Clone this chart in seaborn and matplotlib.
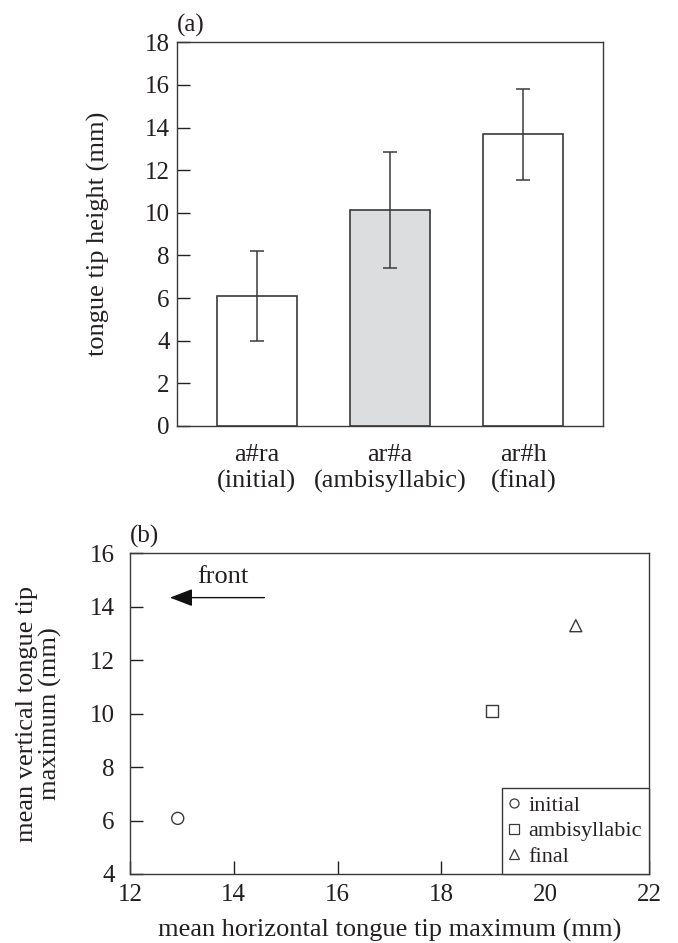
import matplotlib
matplotlib.use("Agg")
import matplotlib.pyplot as plt
import seaborn as sns
import pandas as pd
from matplotlib.lines import Line2D

# ---- data ----
bar_labels = ["a#ra\n(initial)", "ar#a\n(ambisyllabic)", "ar#h\n(final)"]
bar_heights = [6.1, 10.13, 13.68]
bar_errors = [2.13, 2.73, 2.12]
bar_fill = ["#ffffff", "#dcdddf", "#ffffff"]

pos_labels = ["initial", "ambisyllabic", "final"]
horiz_max = [12.92, 18.98, 20.59]
vert_max = [6.08, 10.11, 13.29]
pos_markers = ["o", "s", "^"]

TXT = "#231f20"
EDGE = "#3a3a3a"

sns.set_theme(style="white")
plt.rcParams["font.family"] = ["Liberation Serif", "DejaVu Serif"]
plt.rcParams["text.color"] = TXT
plt.rcParams["axes.labelcolor"] = TXT
plt.rcParams["xtick.color"] = TXT
plt.rcParams["ytick.color"] = TXT

fig = plt.figure(figsize=(6.78, 9.43), dpi=100)
ax1 = fig.add_axes([0.2606, 0.5483, 0.6292, 0.4068])
ax2 = fig.add_axes([0.1917, 0.0732, 0.7655, 0.3401])

FS_TICK = 18
FS_LAB = 19

# ---- panel (a) ----
df_a = pd.DataFrame({"cat": bar_labels, "h": bar_heights})
sns.barplot(data=df_a, x="cat", y="h", hue="cat", palette=bar_fill, legend=False,
            width=0.6, edgecolor=EDGE, linewidth=1.2, errorbar=None, ax=ax1)
ax1.errorbar(x=list(range(len(bar_heights))), y=bar_heights, yerr=bar_errors,
             fmt="none", ecolor=EDGE, elinewidth=1.1, capsize=4.7, capthick=1.1)
ax1.set_xlim(-0.6, 2.6)
ax1.set_ylim(0, 18)
ax1.set_yticks(range(0, 19, 2))
ax1.set_xlabel("")
ax1.set_ylabel("tongue tip height (mm)", fontsize=FS_LAB, labelpad=25)
ax1.tick_params(axis="y", direction="in", length=9.5, width=1, labelsize=FS_TICK, pad=5,
                left=True)
ax1.tick_params(axis="x", length=0, labelsize=FS_LAB, pad=13)
for lab in ax1.get_xticklabels():
    lab.set_linespacing(1.2)
ax1.text(0.0, 1.015, "(a)", transform=ax1.transAxes, ha="left", va="bottom",
         fontsize=FS_TICK)

# ---- panel (b) ----
df_b = pd.DataFrame({"x": horiz_max, "y": vert_max, "pos": pos_labels})
sns.scatterplot(data=df_b, x="x", y="y", style="pos",
                markers=dict(zip(pos_labels, pos_markers)), s=75,
                facecolor="none", edgecolor=EDGE, linewidth=1.0, legend=False, ax=ax2)
ax2.set_xlim(12, 22)
ax2.set_ylim(4, 16)
ax2.set_xticks(range(12, 23, 2))
ax2.set_yticks(range(4, 17, 2))
ax2.set_xlabel("mean horizontal tongue tip maximum (mm)", fontsize=FS_LAB, labelpad=9.5)
ax2.set_ylabel("mean vertical tongue tip\nmaximum (mm)", fontsize=FS_LAB, labelpad=20,
               linespacing=1.05)
ax2.tick_params(axis="both", direction="in", length=9.5, width=1, labelsize=FS_TICK,
                left=True, bottom=True)
ax2.tick_params(axis="y", pad=11)
ax2.tick_params(axis="x", pad=7)
ax2.text(0.0, 1.015, "(b)", transform=ax2.transAxes, ha="left", va="bottom",
         fontsize=FS_TICK)

ax2.annotate("", xy=(12.77, 14.34), xytext=(14.59, 14.34),
             arrowprops=dict(arrowstyle="-|>,head_length=0.7,head_width=0.27",
                             color="#111111", lw=1.0, shrinkA=0, shrinkB=0,
                             mutation_scale=20))
ax2.text(13.78, 15.1, "front", ha="center", va="center", fontsize=FS_LAB)

handles = [Line2D([], [], marker=m, linestyle="none", markerfacecolor="none",
                  markeredgecolor=EDGE, markeredgewidth=0.9, markersize=6.5)
           for m in pos_markers]
leg = ax2.legend(handles, pos_labels, loc="lower right", borderaxespad=0,
                 fancybox=False, frameon=True, edgecolor=EDGE, fontsize=16,
                 handlelength=0.4, handletextpad=0.45, labelspacing=0.22,
                 borderpad=0.32, framealpha=1)
leg.get_frame().set_linewidth(1.0)

for ax in (ax1, ax2):
    for sp in ax.spines.values():
        sp.set_visible(True)
        sp.set_color(EDGE)
        sp.set_linewidth(1.0)

fig.savefig("out.png", dpi=100)
